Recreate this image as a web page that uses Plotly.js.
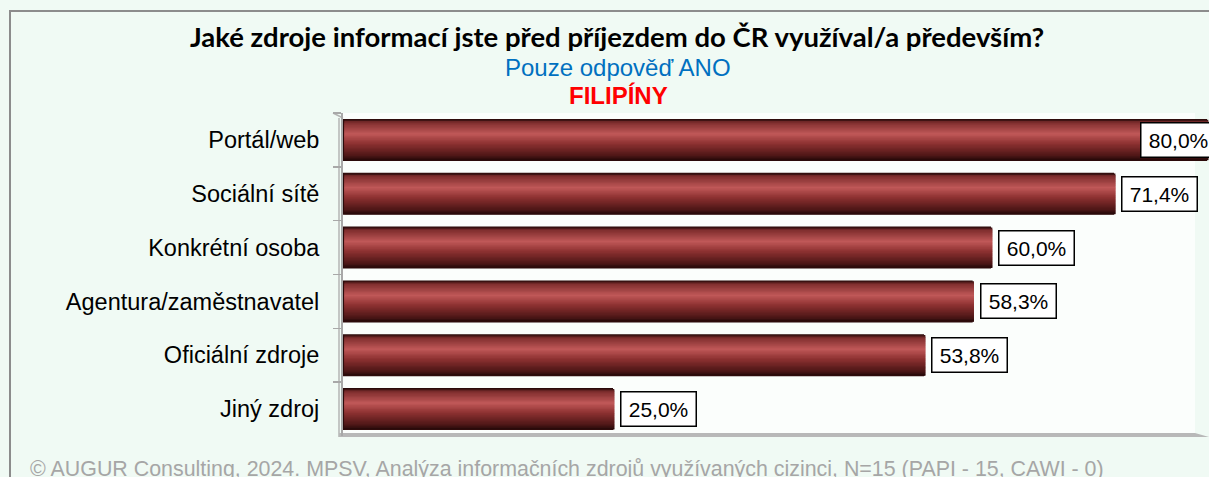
<!DOCTYPE html>
<html>
<head>
<meta charset="utf-8">
<script src="https://cdn.plot.ly/plotly-3.0.1.min.js"></script>
<style>html,body{margin:0;padding:0;background:#f0faf4;}#chart{width:1209px;height:477px;}</style>
</head>
<body>
<div id="chart"></div>
<script>
// ---- data ----
const categories = ["Portál/web", "Sociální sítě", "Konkrétní osoba", "Agentura/zaměstnavatel", "Oficiální zdroje", "Jiný zdroj"];
const values = [80.0, 71.4, 60.0, 58.3, 53.8, 25.0];
const valueLabels = ["80,0%", "71,4%", "60,0%", "58,3%", "53,8%", "25,0%"];
const titleText = "Jaké zdroje informací jste před příjezdem do ČR využíval/a především?";
const subtitleText = "Pouze odpověď ANO";
const countryText = "FILIPÍNY";
const footerText = "© AUGUR Consulting, 2024. MPSV, Analýza informačních zdrojů využívaných cizinci, N=15 (PAPI - 15, CAWI - 0)";

// ---- layout geometry ----
const W = 1209, H = 477;
const M = {l: 343, r: 0, t: 113, b: 41};
const pw = W - M.l - M.r, ph = H - M.t - M.b;
const px2x = p => (p - M.l) / pw;
const px2y = p => 1 - (p - M.t) / ph;

// cylinder shading: overlay thin bands, colours interpolated along bar height
const stops = [
  [0.00, [40, 10, 10]],
  [0.06, [125, 45, 45]],
  [0.35, [192, 88, 88]],
  [0.60, [140, 48, 48]],
  [0.90, [75, 22, 22]],
  [1.00, [35, 8, 8]]
];
function colAt(t) {
  for (let i = 0; i < stops.length - 1; i++) {
    const [t0, c0] = stops[i], [t1, c1] = stops[i + 1];
    if (t >= t0 && t <= t1) {
      const f = (t - t0) / (t1 - t0);
      return 'rgb(' + c0.map((v, k) => Math.round(v + (c1[k] - v) * f)).join(',') + ')';
    }
  }
  return 'rgb(35,8,8)';
}
const barW = 0.78, N = 30;
const traces = [];
// outline
traces.push({
  type: 'bar', orientation: 'h', x: values, y: categories,
  width: barW, marker: {color: '#2a0a0a', line: {width: 0}},
  hoverinfo: 'skip', cliponaxis: false, showlegend: false
});
const inner = barW - 0.03;
for (let i = 0; i < N; i++) {
  const t = (i + 0.5) / N;
  const bw = (i === N - 1) ? inner / N : inner / N * 2.2;
  traces.push({
    type: 'bar', orientation: 'h', x: values, y: categories,
    base: 0.12,
    width: bw,
    offset: -inner / 2 + i * inner / N,
    marker: {color: colAt(t), line: {width: 0}},
    hoverinfo: 'skip', cliponaxis: false, showlegend: false
  });
}

const maxV = Math.max(...values);
const annotations = values.map((v, i) => ({
  x: v, y: categories[i], xref: 'x', yref: 'y',
  text: valueLabels[i], showarrow: false,
  xanchor: v === maxV ? 'right' : 'left',
  xshift: v === maxV ? 10 : 7,
  width: 66, height: 25, align: 'center',
  font: {family: 'Liberation Sans, Arial', size: 21, color: '#000'},
  bgcolor: '#ffffff', bordercolor: '#000000', borderwidth: 1.5, borderpad: 4
}));
annotations.push(
  {xref: 'paper', yref: 'paper', x: px2x(617), y: px2y(37), text: '<b>' + titleText + '</b>', showarrow: false,
   xanchor: 'center', yanchor: 'middle', font: {family: 'Lato, sans-serif', size: 27.5, color: '#000'}},
  {xref: 'paper', yref: 'paper', x: px2x(618), y: px2y(68), text: subtitleText, showarrow: false,
   xanchor: 'center', yanchor: 'middle', font: {family: 'Liberation Sans, Arial', size: 24, color: '#0070c0'}},
  {xref: 'paper', yref: 'paper', x: px2x(618), y: px2y(95), text: '<b>' + countryText + '</b>', showarrow: false,
   xanchor: 'center', yanchor: 'middle', font: {family: 'Liberation Sans, Arial', size: 24, color: '#ff0000'}},
  {xref: 'paper', yref: 'paper', x: px2x(28), y: px2y(455), text: footerText, showarrow: false,
   xanchor: 'left', yanchor: 'top', font: {family: 'Liberation Sans, Arial', size: 21.4, color: '#a6a6a6'}}
);

const shapes = [
  // outer frame
  {type: 'rect', xref: 'paper', yref: 'paper', x0: px2x(10), x1: px2x(1240), y0: px2y(11), y1: px2y(520),
   line: {color: '#8c8c8c', width: 2}, fillcolor: 'rgba(0,0,0,0)', layer: 'below'},
  // plot wall
  {type: 'rect', xref: 'paper', yref: 'paper', x0: 0, x1: px2x(1195), y0: 0, y1: 1,
   line: {width: 0}, fillcolor: '#fbfefc', layer: 'below'},
  // 3d axis offset line
  {type: 'line', xref: 'paper', yref: 'paper', x0: px2x(339), x1: px2x(339), y0: px2y(118), y1: px2y(437),
   line: {color: '#b4b4b4', width: 1.5}, layer: 'below'},
  {type: 'line', xref: 'paper', yref: 'paper', x0: px2x(333), x1: px2x(343), y0: px2y(113), y1: px2y(118),
   line: {color: '#b4b4b4', width: 1.5}, layer: 'below'},
  // floor
  {type: 'path', xref: 'paper', yref: 'paper',
   path: 'M ' + px2x(339) + ',' + px2y(433) + ' L ' + px2x(1195) + ',' + px2y(433) + ' L ' + px2x(1209) + ',' + px2y(437) +
         ' L ' + px2x(339) + ',' + px2y(437) + ' Z',
   line: {width: 0}, fillcolor: '#b8b8b8', layer: 'below'}
];

const layout = {
  width: W, height: H,
  margin: M,
  paper_bgcolor: '#f0faf4',
  plot_bgcolor: 'rgba(0,0,0,0)',
  barmode: 'overlay',
  showlegend: false,
  xaxis: {range: [0, pw / 10.8], showgrid: false, zeroline: false, showticklabels: false, ticks: '', showline: false, fixedrange: true},
  yaxis: {autorange: 'reversed', type: 'category', showgrid: false, zeroline: false,
          showline: true, linecolor: '#a8a8a8', linewidth: 2,
          ticks: 'outside', ticklen: 8, tickcolor: '#a8a8a8', tickwidth: 1.5, tickson: 'boundaries',
          ticklabelstandoff: 17,
          tickfont: {family: 'Liberation Sans, Arial', size: 23.5, color: '#000'}, fixedrange: true},
  annotations: annotations,
  shapes: shapes
};

Plotly.newPlot('chart', traces, layout, {displayModeBar: false, staticPlot: true});
</script>
</body>
</html>
